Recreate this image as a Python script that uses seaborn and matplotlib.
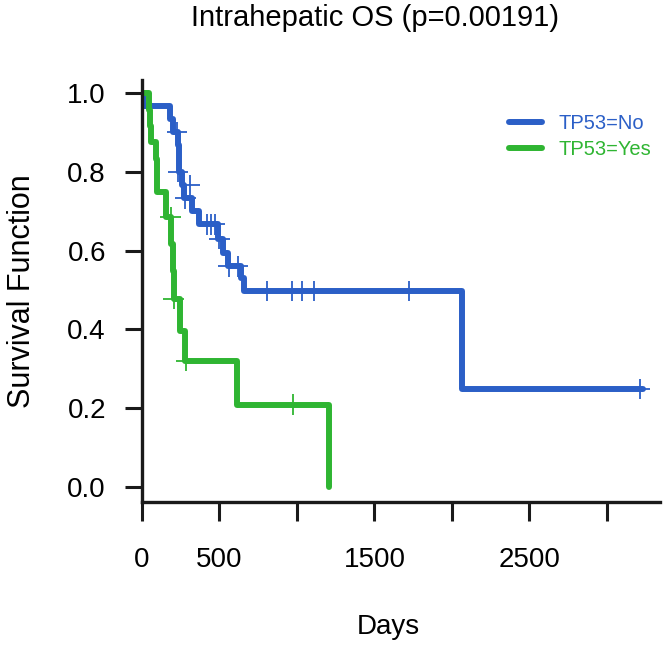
import matplotlib
matplotlib.use("Agg")
import matplotlib.pyplot as plt
import seaborn as sns
import pandas as pd
from matplotlib.lines import Line2D

# ---- data ----
groups = ["TP53=No", "TP53=Yes"]
colors = ["#2b5fc7", "#2fb532"]

no_days = [0, 8, 180, 200, 232, 236, 240, 255, 270, 320, 370, 490, 520, 555, 640, 655, 2065, 3235]
no_surv = [1.0, 0.967, 0.933, 0.900, 0.867, 0.833, 0.800, 0.767, 0.733, 0.700, 0.667, 0.630, 0.595, 0.560, 0.530, 0.497, 0.249, 0.249]
no_cens_days = [225, 232, 310, 280, 420, 445, 470, 500, 560, 620, 806, 968, 1032, 1110, 1723, 3213]
no_cens_surv = [0.900, 0.800, 0.767, 0.733, 0.667, 0.667, 0.667, 0.630, 0.560, 0.560, 0.497, 0.497, 0.497, 0.497, 0.497, 0.249]

yes_days = [0, 45, 52, 58, 90, 95, 100, 155, 190, 198, 205, 245, 280, 616, 1206]
yes_surv = [1.0, 0.958, 0.917, 0.875, 0.833, 0.792, 0.750, 0.685, 0.617, 0.548, 0.478, 0.397, 0.320, 0.209, 0.0]
yes_cens_days = [185, 205, 285, 975]
yes_cens_surv = [0.685, 0.478, 0.320, 0.209]

xticks = [0, 500, 1000, 1500, 2000, 2500, 3000]
xticklabels = ["0", "500", "", "1500", "", "2500", ""]
yticks = [0.0, 0.2, 0.4, 0.6, 0.8, 1.0]
yticklabels = ["0.0", "0.2", "0.4", "0.6", "0.8", "1.0"]

title = "Intrahepatic OS (p=0.00191)"
xlabel = "Days"
ylabel = "Survival Function"

# ---- style ----
sns.set_style("ticks")
plt.rcParams['font.family'] = ['Liberation Sans', 'DejaVu Sans']
plt.rcParams['text.color'] = 'black'
plt.rcParams['axes.labelcolor'] = 'black'

curves = pd.concat([
    pd.DataFrame({"Days": no_days, "Survival": no_surv, "Group": groups[0]}),
    pd.DataFrame({"Days": yes_days, "Survival": yes_surv, "Group": groups[1]}),
], ignore_index=True)
cens = pd.concat([
    pd.DataFrame({"Days": no_cens_days, "Survival": no_cens_surv, "Group": groups[0]}),
    pd.DataFrame({"Days": yes_cens_days, "Survival": yes_cens_surv, "Group": groups[1]}),
], ignore_index=True)

fig = plt.figure(figsize=(6.67, 6.5), dpi=100)
ax = fig.add_axes([142 / 667, 148 / 650, 518 / 667, 422 / 650])

sns.lineplot(data=curves, x="Days", y="Survival", hue="Group", hue_order=groups,
             palette=colors, estimator=None, sort=False, drawstyle="steps-post",
             linewidth=4.3, ax=ax, legend=False)
sns.scatterplot(data=cens, x="Days", y="Survival", hue="Group", hue_order=groups,
                palette=colors, marker="+", s=220, linewidth=1.3, ax=ax,
                legend=False, zorder=3)

ax.set_xlim(0, 3342)
ax.set_ylim(-0.038, 1.033)
ax.set_xticks(xticks)
ax.set_xticklabels(xticklabels)
ax.set_yticks(yticks)
ax.set_yticklabels(yticklabels)

for s in ["top", "right"]:
    ax.spines[s].set_visible(False)
for s in ["left", "bottom"]:
    ax.spines[s].set_linewidth(2.4)
    ax.spines[s].set_color("#1a1a1a")

ax.tick_params(axis="y", length=12, width=2.2, pad=14, labelsize=20,
               color="#1a1a1a", labelcolor="black")
ax.tick_params(axis="x", length=13.5, width=2.2, pad=19, labelsize=20,
               color="#1a1a1a", labelcolor="black")

ax.set_xlabel(xlabel, fontsize=20, va="center")
ax.xaxis.set_label_coords(0.475, -0.296)
ax.set_ylabel(ylabel, fontsize=22, va="center")
ax.yaxis.set_label_coords(-0.232, 0.5)
ax.set_title(title, fontsize=21, x=0.45, y=1.147, va="center", pad=0)

handles = [Line2D([], [], color=c, lw=4.3) for c in colors]
leg = ax.legend(handles, groups, loc="upper left",
                bbox_to_anchor=(509 / 667, 1 - 114 / 650), bbox_transform=fig.transFigure,
                frameon=False, fontsize=14.5, handlelength=1.65, handletextpad=0.8,
                borderpad=0, borderaxespad=0, labelspacing=0.33)
for t, c in zip(leg.get_texts(), colors):
    t.set_color(c)

fig.savefig("out.png", dpi=100)
